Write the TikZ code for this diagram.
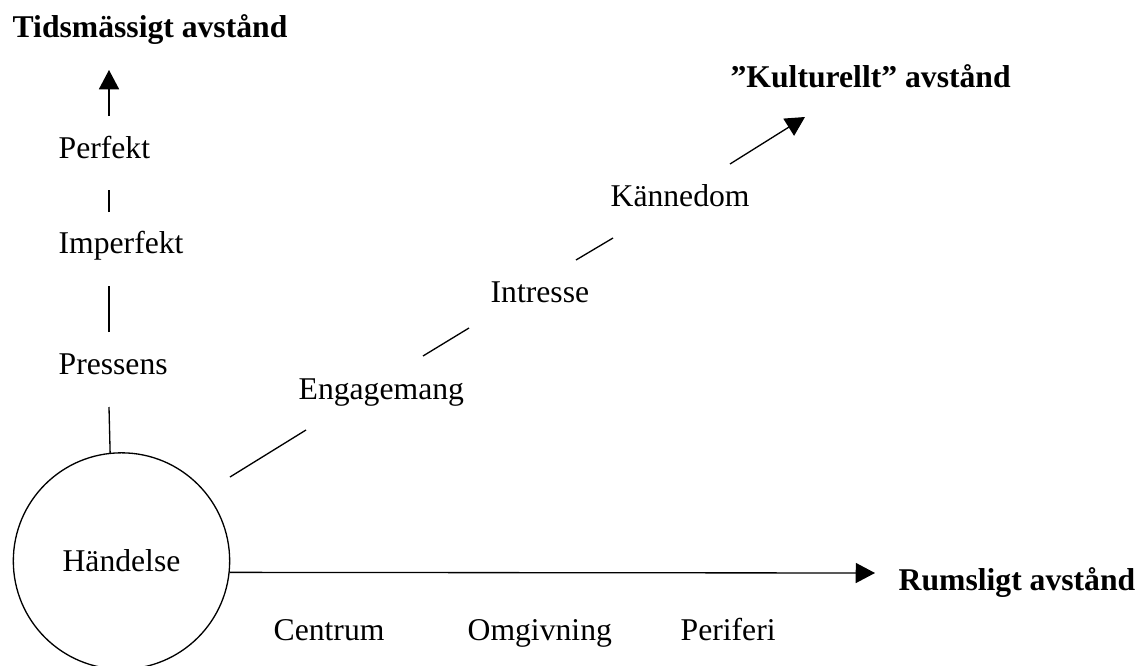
\documentclass[tikz,border=0pt,12pt]{standalone}
\usepackage{fontspec}
\setmainfont{Liberation Serif}
\usepackage{tikz}
\usetikzlibrary{arrows.meta}

\begin{document}
\begin{tikzpicture}[x=0.379pt,y=-0.379pt,
    lbl/.style={anchor=base west,inner sep=0pt},
    head/.style={lbl,font=\bfseries},
    tip/.style={-{Triangle[length=7.3pt,width=7.6pt]}},
    line width=0.5pt]

\useasboundingbox (0,0) rectangle (1142,666);

% Event circle
\node[draw,circle,minimum size=82pt,inner sep=0pt] (hand) at (121.5,561) {Händelse};

% Axis titles
\node[head] (tid) at (12,37) {Tidsmässigt avstånd};
\node[head] (kult) at (730,87) {”Kulturellt” avstånd};
\node[head] (rum) at (898,590) {Rumsligt avstånd};

% Time axis labels
\node[lbl] (perf) at (58,158) {Perfekt};
\node[lbl] (imp) at (58,253) {Imperfekt};
\node[lbl] (pres) at (58,374) {Pressens};

% Cultural axis labels
\node[lbl] (eng) at (298,399) {Engagemang};
\node[lbl] (intr) at (490,302) {Intresse};
\node[lbl] (kann) at (610,206) {Kännedom};

% Spatial axis labels
\node[lbl] (cent) at (273,640) {Centrum};
\node[lbl] (omg) at (467,640) {Omgivning};
\node[lbl] (peri) at (680,640) {Periferi};

% Segment ends
\coordinate (t1) at (109,407);
\coordinate (t2a) at (109,332);
\coordinate (t2b) at (109,286);
\coordinate (t3a) at (109,212);
\coordinate (t3b) at (109,190);
\coordinate (t4a) at (109,116);
\coordinate (t4b) at (109,70);
\coordinate (k1a) at (230,477);
\coordinate (k1b) at (306,430);
\coordinate (k2a) at (423,356);
\coordinate (k2b) at (469,328);
\coordinate (k3a) at (576,260);
\coordinate (k3b) at (613,238);
\coordinate (k4a) at (730,164);
\coordinate (k4b) at (805,117);
\coordinate (r1) at (875,573);

% Time axis
\draw (hand.96.6) -- (t1);
\draw (t2a) -- (t2b);
\draw (t3a) -- (t3b);
\draw[tip] (t4a) -- (t4b);

% Cultural axis
\draw (k1a) -- (k1b);
\draw (k2a) -- (k2b);
\draw (k3a) -- (k3b);
\draw[tip] (k4a) -- (k4b);

% Spatial axis
\draw[tip] (hand.-6.35) -- (r1);

\end{tikzpicture}
\end{document}
